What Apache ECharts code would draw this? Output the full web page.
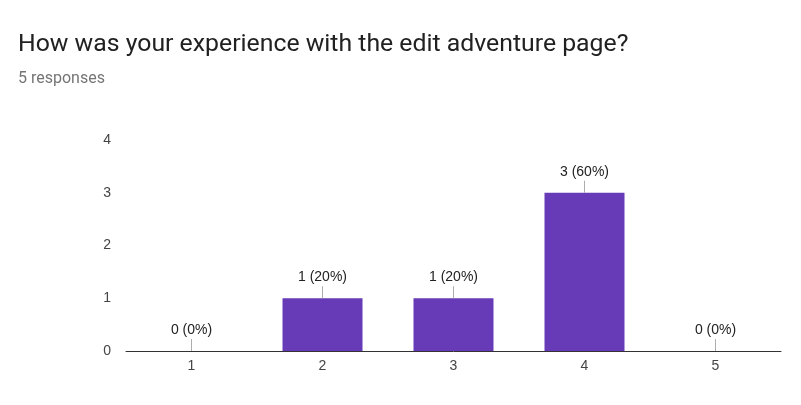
<!DOCTYPE html>
<html>
<head>
<meta charset="utf-8">
<script src="https://cdn.jsdelivr.net/npm/echarts@6/dist/echarts.min.js"></script>
<style>
  html, body { margin: 0; padding: 0; background: #fff; }
  #chart-target { width: 801px; height: 405px; }
</style>
</head>
<body>
<div id="chart-target"></div>
<script>
  var categories = ['1', '2', '3', '4', '5'];
  var counts = [0, 1, 1, 3, 0];
  var percents = [0, 20, 20, 60, 0];
  var yTicks = [0, 1, 2, 3, 4];

  var myChart = echarts.init(document.getElementById('chart-target'));
  myChart.setOption({
    animation: false,
    title: {
      text: 'How was your experience with the edit adventure page?',
      subtext: '5 responses',
      left: 13,
      top: 27,
      itemGap: 14,
      textStyle: { fontFamily: 'Roboto', fontSize: 24.8, fontWeight: 'normal', color: '#212121' },
      subtextStyle: { fontFamily: 'Roboto', fontSize: 16, color: '#757575' }
    },
    grid: { left: 126, right: 20, top: 140, bottom: 54 },
    xAxis: {
      type: 'category',
      data: categories,
      axisLine: { lineStyle: { color: '#333', width: 1 } },
      axisTick: { show: false },
      axisLabel: { color: '#444', fontFamily: 'Liberation Sans', fontSize: 14, margin: 8 }
    },
    yAxis: {
      type: 'value',
      min: yTicks[0],
      max: yTicks[yTicks.length - 1],
      interval: 1,
      splitLine: { show: false },
      axisLine: { show: false },
      axisTick: { show: false },
      axisLabel: { color: '#444', fontFamily: 'Liberation Sans', fontSize: 14, margin: 15 }
    },
    series: [
      {
        type: 'bar',
        data: counts,
        barWidth: 80,
        itemStyle: { color: '#673ab7' },
        label: {
          show: true,
          position: 'top',
          distance: 14,
          color: '#222',
          fontFamily: 'Liberation Sans',
          fontSize: 14,
          formatter: function (p) { return counts[p.dataIndex] + ' (' + percents[p.dataIndex] + '%)'; }
        }
      },
      {
        type: 'scatter',
        data: counts,
        symbol: 'rect',
        symbolSize: [1, 12],
        symbolOffset: [0, '-50%'],
        itemStyle: { color: '#999' },
        silent: true,
        z: 3
      }
    ]
  });
</script>
</body>
</html>
